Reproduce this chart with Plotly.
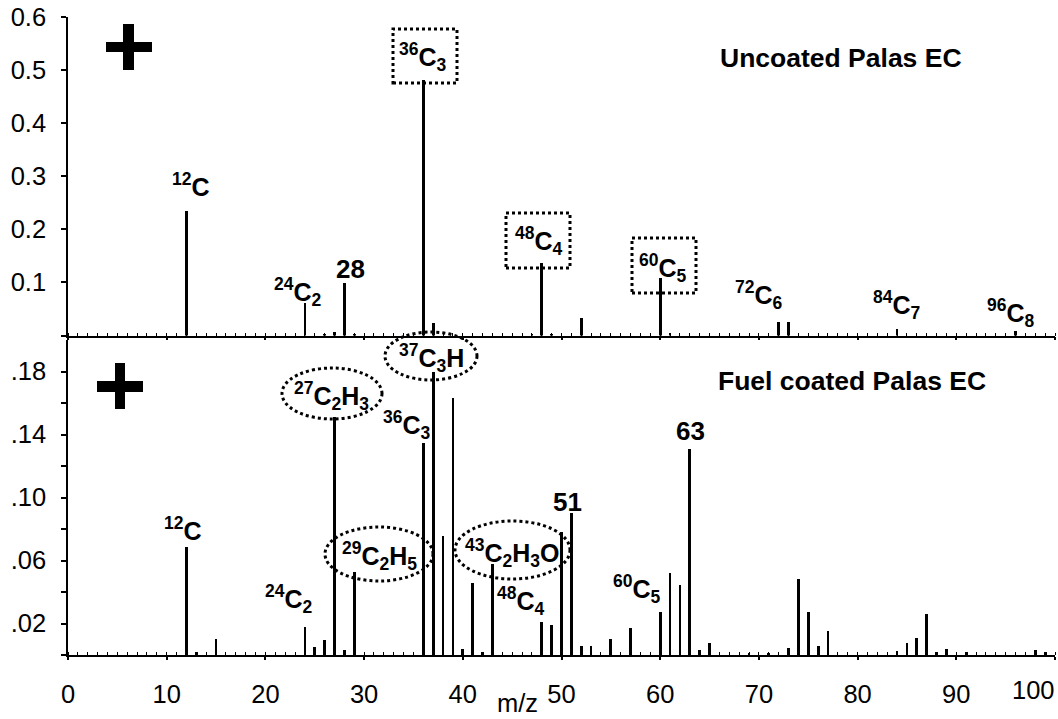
import plotly.graph_objects as go

# ---------------- data ----------------
top_mz = [12, 24, 26, 27, 28, 29, 36, 37, 47, 48, 49, 52, 60, 61, 72, 73, 84, 96]
top_int = [0.235, 0.061, 0.003, 0.007, 0.098, 0.003, 0.482, 0.023, 0.003, 0.136, 0.002,
           0.0325, 0.109, 0.005, 0.025, 0.025, 0.012, 0.0085]

bot_mz = [12, 13, 15, 24, 25, 26, 27, 28, 29, 36, 37, 38, 39, 40, 41, 42, 43, 48, 49, 50,
          51, 52, 53, 55, 57, 60, 61, 62, 63, 64, 65, 69, 71, 73, 74, 75, 76, 77, 84, 85,
          86, 87, 88, 89, 91, 98, 99]
bot_int = [0.0685, 0.002, 0.010, 0.018, 0.0053, 0.0095, 0.151, 0.003, 0.053, 0.1347, 0.180,
           0.0757, 0.163, 0.0036, 0.046, 0.002, 0.0577, 0.0212, 0.019, 0.078, 0.090, 0.0057,
           0.0057, 0.0104, 0.017, 0.0276, 0.052, 0.0445, 0.131, 0.003, 0.0074, 0.0015, 0.0015,
           0.0046, 0.048, 0.027, 0.006, 0.015, 0.0025, 0.0074, 0.0106, 0.026, 0.0017, 0.0036,
           0.002, 0.0032, 0.002]

x_tickvals = [0, 10, 20, 30, 40, 50, 60, 70, 80, 90, 100]
x_ticktext = ["0", "10", "20", "30", "40", "50", "60", "70", "80", "90", ""]
top_y_tickvals = [0, 0.1, 0.2, 0.3, 0.4, 0.5, 0.6]
top_y_ticktext = ["", "0.1", "0.2", "0.3", "0.4", "0.5", "0.6"]
bot_y_tickvals = [0, 0.02, 0.04, 0.06, 0.08, 0.10, 0.12, 0.14, 0.16, 0.18]
bot_y_ticktext = ["", ".02", "", ".06", "", ".10", "", ".14", "", ".18"]

top_labels = ["<sup>12</sup>C", "<sup>24</sup>C<sub>2</sub>", "28", "<sup>36</sup>C<sub>3</sub>",
              "<sup>48</sup>C<sub>4</sub>", "<sup>60</sup>C<sub>5</sub>", "<sup>72</sup>C<sub>6</sub>",
              "<sup>84</sup>C<sub>7</sub>", "<sup>96</sup>C<sub>8</sub>"]
bot_labels = ["<sup>12</sup>C", "<sup>24</sup>C<sub>2</sub>", "<sup>27</sup>C<sub>2</sub>H<sub>3</sub>",
              "<sup>29</sup>C<sub>2</sub>H<sub>5</sub>", "<sup>37</sup>C<sub>3</sub>H",
              "<sup>36</sup>C<sub>3</sub>", "<sup>43</sup>C<sub>2</sub>H<sub>3</sub>O",
              "<sup>48</sup>C<sub>4</sub>", "51", "<sup>60</sup>C<sub>5</sub>", "63"]
top_title = "Uncoated Palas EC"
bot_title = "Fuel coated Palas EC"

# ---------------- layout geometry (pixels) ----------------
W, H = 1058, 719
L, R, T, B = 68, 3, 17, 64
PW, PH = W - L - R, H - T - B
Y0 = H - B  # pixel y of paper 0


def px(xp):
    return (xp - L) / PW


def py(yp):
    return (Y0 - yp) / PH


FONT = "Arial, Liberation Sans, sans-serif"

top_label_pos = [(191, 185), (298, 292), (350, 269), (423, 57), (539, 241), (663, 268),
                 (759, 295), (896, 305), (1011, 313)]
top_label_size = [25, 25, 26, 25, 25, 25, 25, 25, 25]
bot_label_pos = [(183, 529), (289, 599), (331, 396), (379, 556), (431, 358), (407, 425),
                 (512, 553), (521, 601), (567, 502), (637, 589), (690, 431)]
bot_label_size = [25, 25, 25, 25, 25, 25, 25, 25, 26, 25, 26]

fig = go.Figure()
fig.add_trace(go.Bar(x=top_mz, y=top_int, width=0.28, marker=dict(color="black", line=dict(width=0)),
                     xaxis="x", yaxis="y", showlegend=False))
fig.add_trace(go.Bar(x=bot_mz, y=bot_int, width=0.28, marker=dict(color="black", line=dict(width=0)),
                     xaxis="x2", yaxis="y2", showlegend=False))

annotations = []
for t, (xp, yp), s in zip(top_labels, top_label_pos, top_label_size):
    annotations.append(dict(text="<b>%s</b>" % t, x=px(xp), y=py(yp), xref="paper", yref="paper",
                            showarrow=False, xanchor="center", yanchor="middle",
                            font=dict(family=FONT, size=s, color="black")))
for t, (xp, yp), s in zip(bot_labels, bot_label_pos, bot_label_size):
    annotations.append(dict(text="<b>%s</b>" % t, x=px(xp), y=py(yp), xref="paper", yref="paper",
                            showarrow=False, xanchor="center", yanchor="middle",
                            font=dict(family=FONT, size=s, color="black")))
annotations.append(dict(text="<b>%s</b>" % top_title, x=px(841), y=py(58), xref="paper", yref="paper",
                        showarrow=False, xanchor="center", yanchor="middle",
                        font=dict(family=FONT, size=26.5, color="black")))
annotations.append(dict(text="<b>%s</b>" % bot_title, x=px(852), y=py(381), xref="paper", yref="paper",
                        showarrow=False, xanchor="center", yanchor="middle",
                        font=dict(family=FONT, size=26.5, color="black")))
annotations.append(dict(text="100", x=px(1033), y=py(690), xref="paper", yref="paper",
                        showarrow=False, xanchor="center", yanchor="middle",
                        font=dict(family=FONT, size=25.5, color="black")))
annotations.append(dict(text="m/z", x=px(517), y=py(703), xref="paper", yref="paper",
                        showarrow=False, xanchor="center", yanchor="middle",
                        font=dict(family=FONT, size=25.5, color="black")))

shapes = []
# dotted boxes (top panel)
for (x0, y0, x1, y1) in [(393, 29, 457, 83), (506, 213, 570, 268), (632, 238, 696, 293)]:
    shapes.append(dict(type="rect", xref="paper", yref="paper", x0=px(x0), x1=px(x1),
                       y0=py(y1), y1=py(y0), line=dict(color="black", width=3, dash="dot")))
# dotted ellipses (bottom panel)
for (x0, y0, x1, y1) in [(282, 368, 382, 419), (385, 332, 477, 380), (325, 527, 433, 581),
                         (455, 521, 570, 579)]:
    shapes.append(dict(type="circle", xref="paper", yref="paper", x0=px(x0), x1=px(x1),
                       y0=py(y1), y1=py(y0), line=dict(color="black", width=3, dash="dot")))
# plus signs
for (x0, y0, x1, y1) in [(123, 24, 134, 70), (106, 42, 152, 52), (115, 363, 125, 409), (97, 381, 143, 392)]:
    shapes.append(dict(type="rect", xref="paper", yref="paper", x0=px(x0), x1=px(x1),
                       y0=py(y1), y1=py(y0), fillcolor="black", line=dict(width=0)))

axis_common = dict(showgrid=False, zeroline=False, showline=True, linecolor="black", linewidth=1.5,
                   tickcolor="black", tickwidth=1.5, tickfont=dict(family=FONT, size=25.5, color="black"))

top_dom = [py(335.5), 1]
bot_dom = [0, py(340)]

fig.update_layout(
    width=W, height=H, margin=dict(l=L, r=R, t=T, b=B),
    paper_bgcolor="white", plot_bgcolor="white", bargap=0,
    xaxis=dict(domain=[0, 1], anchor="y", range=[0, 100], tickvals=x_tickvals, showticklabels=False,
               ticks="outside", ticklen=3,
               minor=dict(dtick=1, tick0=0, ticks="inside", ticklen=3, tickcolor="black", tickwidth=1.2),
               **axis_common),
    yaxis=dict(domain=top_dom, anchor="x", range=[0, 0.6], tickvals=top_y_tickvals, ticktext=top_y_ticktext,
               ticks="outside", ticklen=5, ticklabelstandoff=10, **axis_common),
    xaxis2=dict(domain=[0, 1], anchor="y2", range=[0, 100], tickvals=x_tickvals, ticktext=x_ticktext,
                ticks="outside", ticklen=3, ticklabelstandoff=13,
                minor=dict(dtick=1, tick0=0, ticks="inside", ticklen=3, tickcolor="black", tickwidth=1.2),
                **axis_common),
    yaxis2=dict(domain=bot_dom, anchor="x2", range=[0, 0.2], tickvals=bot_y_tickvals, ticktext=bot_y_ticktext,
                ticks="outside", ticklen=5, ticklabelstandoff=10, **axis_common),
    annotations=annotations,
    shapes=shapes,
)

fig.write_html("out.html")
